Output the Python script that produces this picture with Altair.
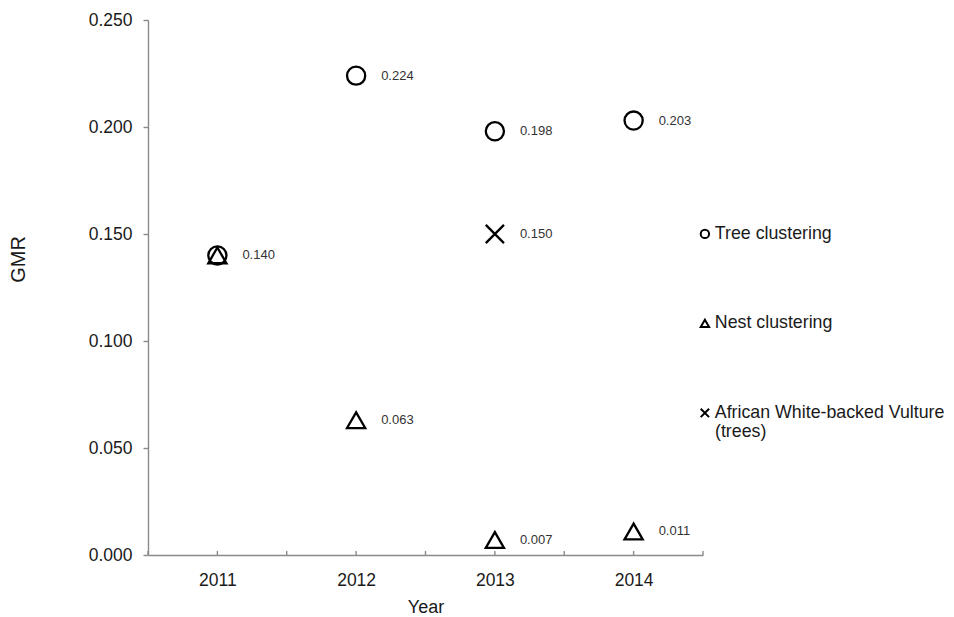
import altair as alt
import pandas as pd

# ---- data ----
years = [2011, 2012, 2013, 2014]
tree_gmr = [0.140, 0.224, 0.198, 0.203]
nest_gmr = [0.140, 0.063, 0.007, 0.011]
vulture_years = [2013]
vulture_gmr = [0.150]
tree_labels = ["0.140", "0.224", "0.198", "0.203"]
nest_labels = ["", "0.063", "0.007", "0.011"]
vulture_labels = ["0.150"]
series_names = ["Tree clustering", "Nest clustering", "African White-backed Vulture"]
legend_note = ["(trees)"]
x_tick_values = [2010.5, 2011, 2011.5, 2012, 2012.5, 2013, 2013.5, 2014, 2014.5]
y_tick_values = [0, 0.05, 0.10, 0.15, 0.20, 0.25]

rows = []
for yr, v, lab in zip(years, tree_gmr, tree_labels):
    rows.append({"Year": yr, "GMR": v, "label": lab, "series": series_names[0]})
for yr, v, lab in zip(years, nest_gmr, nest_labels):
    rows.append({"Year": yr, "GMR": v, "label": lab, "series": series_names[1]})
for yr, v, lab in zip(vulture_years, vulture_gmr, vulture_labels):
    rows.append({"Year": yr, "GMR": v, "label": lab, "series": series_names[2]})
df = pd.DataFrame(rows)
ticks_df = pd.DataFrame({"Year": x_tick_values})
note_df = pd.DataFrame({"note": legend_note})

FONT = "Liberation Sans"
W, H = 555, 535

x_scale = alt.Scale(domain=[2010.5, 2014.5], nice=False, zero=False)
y_scale = alt.Scale(domain=[0, 0.25], nice=False, zero=True)

x_axis = alt.Axis(
    values=x_tick_values,
    labelExpr="datum.value % 1 == 0 ? format(datum.value, 'd') : ''",
    title="Year", ticks=False, grid=False, labelPadding=16,
    labelFontSize=17.5, labelColor="#1a1a1a", labelFont=FONT, labelOverlap=False,
    labelFlush=False,
    titleFontSize=18, titleFont=FONT, titleFontWeight="normal", titleColor="#1a1a1a",
    titleY=52, titleBaseline="middle",
    domainColor="#8a8a8a", domainWidth=1.4,
)
y_axis = alt.Axis(
    values=y_tick_values, format=".3f", title="GMR", grid=False,
    tickSize=5, tickColor="#8a8a8a", tickWidth=1.4, labelPadding=11,
    labelFontSize=17.5, labelColor="#1a1a1a", labelFont=FONT,
    titleFontSize=20, titleFont=FONT, titleFontWeight="normal", titleColor="#1a1a1a",
    titleX=-130, titleY=239, titleBaseline="middle", titleAngle=-90,
    domainColor="#8a8a8a", domainWidth=1.4,
)

shape_scale = alt.Scale(domain=series_names,
                        range=["circle", "triangle-up", "M-1,-1L1,1M1,-1L-1,1"])

legend = alt.Legend(
    title=None, orient="none", legendX=548, legendY=205, padding=0,
    rowPadding=70.5, symbolSize=70, symbolStrokeWidth=2, symbolStrokeColor="black",
    symbolFillColor="white", labelFontSize=17.8, labelFont=FONT, labelColor="#1a1a1a",
    labelOffset=1, labelLimit=400,
)

points = alt.Chart(df).mark_point(filled=False, color="black", strokeWidth=2.3,
                                  opacity=1, size=330).encode(
    x=alt.X("Year:Q", scale=x_scale, axis=x_axis),
    y=alt.Y("GMR:Q", scale=y_scale, axis=y_axis),
    shape=alt.Shape("series:N", scale=shape_scale, legend=legend),
)

labels = alt.Chart(df).mark_text(align="left", baseline="middle", dx=25, fontSize=13,
                                 font=FONT, color="#333333").encode(
    x=alt.X("Year:Q", scale=x_scale, axis=x_axis),
    y=alt.Y("GMR:Q", scale=y_scale, axis=y_axis),
    text="label:N",
)

inner_ticks = alt.Chart(ticks_df).mark_rule(color="#8a8a8a", strokeWidth=1.4).encode(
    x=alt.X("Year:Q", scale=x_scale, axis=x_axis),
    y=alt.value(H),
    y2=alt.value(H - 4),
)

# second line of the third legend entry
note = alt.Chart(note_df).mark_text(align="left", baseline="middle", fontSize=17.8,
                                    font=FONT, color="#1a1a1a").encode(
    x=alt.value(W + 12),
    y=alt.value(412),
    text="note:N",
)

chart = alt.layer(points, labels, inner_ticks, note).properties(
    width=W, height=H,
    autosize=alt.AutoSizeParams(type="none"),
    padding={"left": 140, "top": 12, "right": 243, "bottom": 62},
).configure(background="white").configure_view(stroke=None)

chart.save("out.html", embed_options={"renderer": "svg", "actions": False})
